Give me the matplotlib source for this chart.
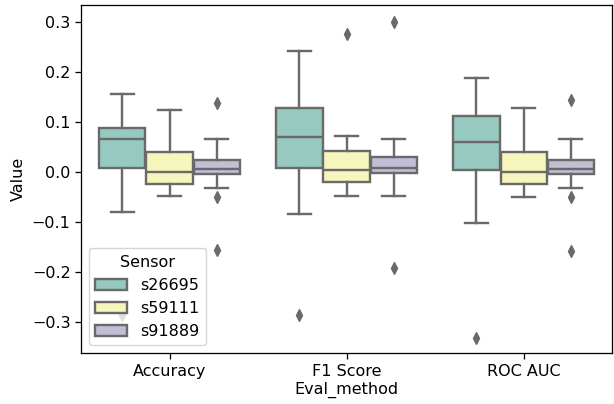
import colorsys
import numpy as np
import matplotlib
matplotlib.use("Agg")
import matplotlib.pyplot as plt
from matplotlib.patches import Patch

# --- valori (per metodo: Accuracy, F1 Score, ROC AUC) ---
methods = ["Accuracy", "F1 Score", "ROC AUC"]
sensors = ["s26695", "s59111", "s91889"]

whishi_s26695 = [0.156, 0.242, 0.188]
q3_s26695 = [0.088, 0.128, 0.112]
med_s26695 = [0.066, 0.070, 0.061]
q1_s26695 = [0.007, 0.007, 0.004]
whislo_s26695 = [-0.081, -0.084, -0.102]
fliers_s26695 = [[-0.287], [-0.287], [-0.332]]

whishi_s59111 = [0.124, 0.072, 0.128]
q3_s59111 = [0.041, 0.042, 0.040]
med_s59111 = [0.000, 0.003, 0.000]
q1_s59111 = [-0.024, -0.020, -0.024]
whislo_s59111 = [-0.048, -0.049, -0.050]
fliers_s59111 = [[], [0.277], []]

whishi_s91889 = [0.066, 0.066, 0.066]
q3_s91889 = [0.024, 0.030, 0.024]
med_s91889 = [0.006, 0.007, 0.005]
q1_s91889 = [-0.004, -0.003, -0.004]
whislo_s91889 = [-0.033, -0.049, -0.032]
fliers_s91889 = [[0.139, -0.050, -0.157], [0.301, -0.193], [0.145, -0.050, -0.158]]

stats_by_sensor = [
    (whishi_s26695, q3_s26695, med_s26695, q1_s26695, whislo_s26695, fliers_s26695),
    (whishi_s59111, q3_s59111, med_s59111, q1_s59111, whislo_s59111, fliers_s59111),
    (whishi_s91889, q3_s91889, med_s91889, q1_s91889, whislo_s91889, fliers_s91889),
]

base_colors = ["#8dd3c7", "#ffffb3", "#bebada"]  # Set3

# l'originale sembra renderizzato un po' piu' grande: scala ~1.15
k = 1.15
plt.rcParams["font.size"] = 10 * k
plt.rcParams["axes.linewidth"] = 0.8 * k
plt.rcParams["xtick.major.width"] = 0.8 * k
plt.rcParams["ytick.major.width"] = 0.8 * k
plt.rcParams["xtick.major.size"] = 3.5 * k
plt.rcParams["ytick.major.size"] = 3.5 * k
lw = 1.5 * k


def desaturate(hexcol, prop=0.75):
    rgb = matplotlib.colors.to_rgb(hexcol)
    h, l, s = colorsys.rgb_to_hls(*rgb)
    return colorsys.hls_to_rgb(h, l, s * prop)


colors = [desaturate(c) for c in base_colors]
lum = min(colorsys.rgb_to_hls(*c)[1] for c in colors) * 0.6
gray = (lum, lum, lum)

fig = plt.figure(figsize=(6.14, 4.04), dpi=100)
ax = fig.add_axes([0.132, 0.126, 0.865, 0.862])

n = len(sensors)
width = 0.8 / n
offsets = (np.arange(n) - (n - 1) / 2) * width
x = np.arange(len(methods))

for j, (whishi, q3, med, q1, whislo, fliers) in enumerate(stats_by_sensor):
    stats = []
    for i in range(len(methods)):
        stats.append(dict(med=med[i], q1=q1[i], q3=q3[i],
                          whislo=whislo[i], whishi=whishi[i], fliers=fliers[i]))
    ax.bxp(stats, positions=x + offsets[j], widths=width * 0.98,
           patch_artist=True, manage_ticks=False,
           boxprops=dict(facecolor=colors[j], edgecolor=gray, linewidth=lw),
           medianprops=dict(color=gray, linewidth=lw),
           whiskerprops=dict(color=gray, linewidth=lw),
           capprops=dict(color=gray, linewidth=lw),
           flierprops=dict(marker="d", markersize=5 * k, markerfacecolor=gray,
                           markeredgecolor=gray, linestyle="none"))

ax.set_xticks(x)
ax.set_xticklabels(methods)
ax.set_xlim(-0.5, len(methods) - 0.5)
ax.set_ylim(-0.363, 0.335)
ax.set_yticks([-0.3, -0.2, -0.1, 0.0, 0.1, 0.2, 0.3])
ax.set_xlabel("Eval_method", labelpad=2)
ax.set_ylabel("Value")

handles = [Patch(facecolor=colors[j], edgecolor=gray, linewidth=lw, label=s)
           for j, s in enumerate(sensors)]
ax.legend(handles=handles, title="Sensor", loc="lower left")

fig.savefig("out.png", dpi=100)
